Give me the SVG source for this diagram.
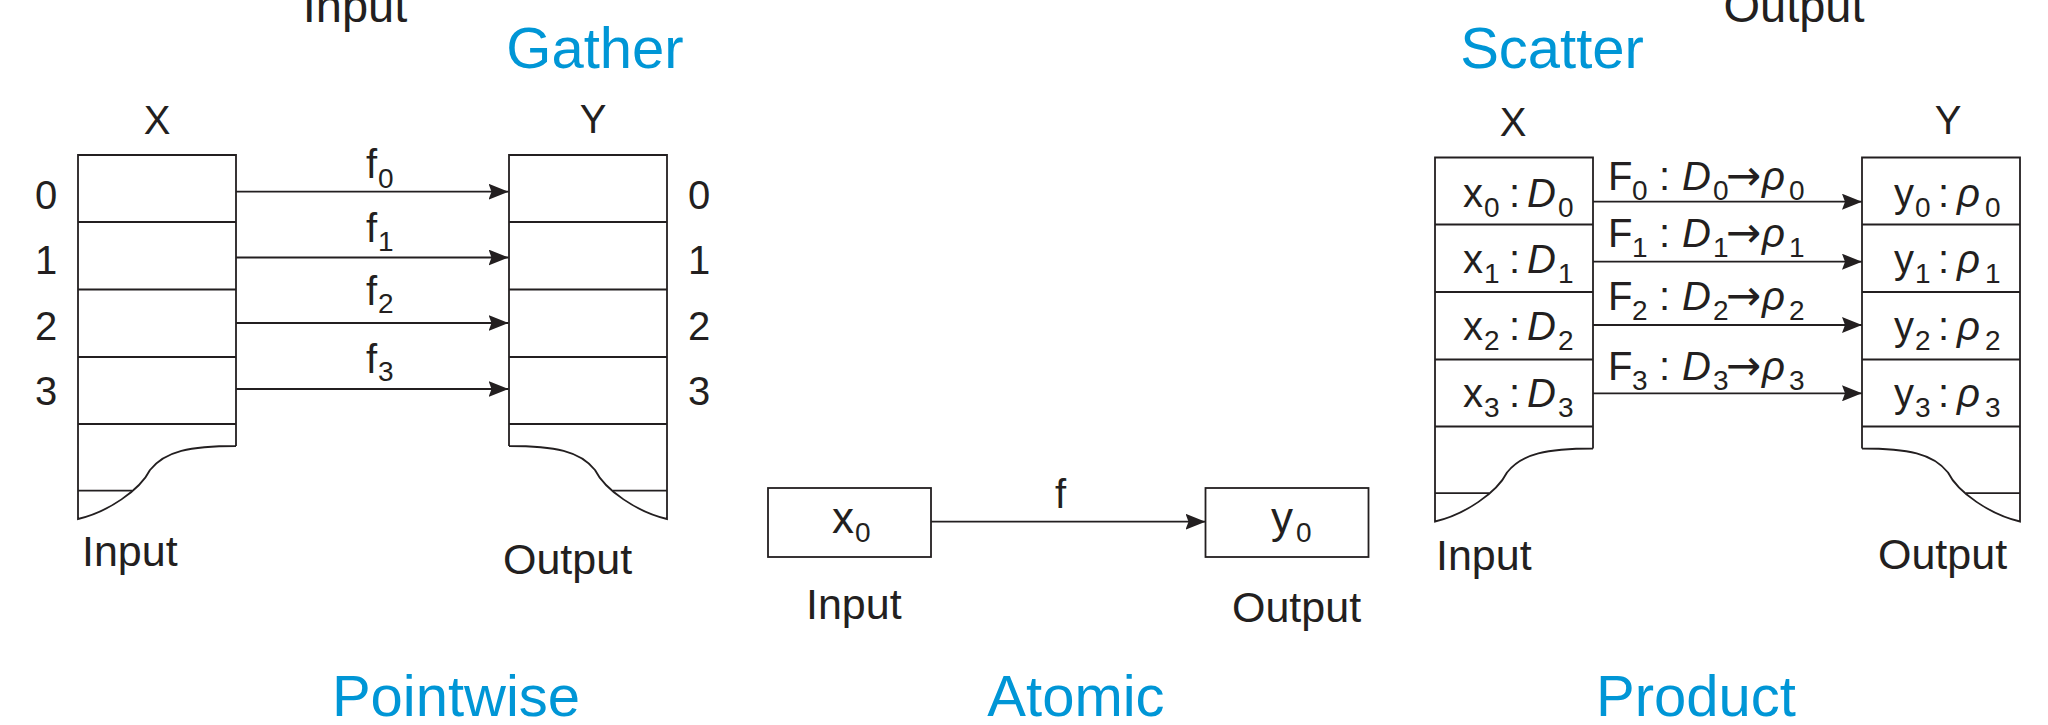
<svg xmlns="http://www.w3.org/2000/svg" xmlns:xlink="http://www.w3.org/1999/xlink" width="2048" height="725" viewBox="0 0 2048 725">
  <style>
    .ln { fill: none; stroke: #231f20; stroke-width: 1.8; }
    .box { fill: #ffffff; stroke: #231f20; stroke-width: 1.8; }
    .wire { fill: none; stroke: #231f20; stroke-width: 1.8; marker-end: url(#head); }
    text { font-family: "Liberation Sans", Arial, Helvetica, sans-serif; fill: #231f20; font-size: 40px; }
    .lbl { font-size: 43px; }
    .top { font-size: 47px; }
    .ttl { font-size: 58px; fill: #0096d6; text-anchor: middle; }
    .mid { text-anchor: middle; }
    .sub { font-size: 28px; }
    .it { font-style: italic; }
    .cell { font-size: 44px; }
    .map { font-family: "DejaVu Sans", sans-serif; font-size: 42px; }
  </style>
  <defs>
    <marker id="head" viewBox="0 0 20 16" markerWidth="20" markerHeight="16" refX="20" refY="8" markerUnits="userSpaceOnUse" orient="auto">
      <path d="M0,0 L20,8 L0,16 L3,8 Z" fill="#231f20"/>
    </marker>
    <!-- memory tape: four cells, a spare cell and a torn lower edge -->
    <g id="tape">
      <path class="ln" d="M236,446 V155 H78 V519 C108,512 140,490 150,470 C165,451 190,446 236,446"/>
      <path class="ln" d="M78,222 H236 M78,289.5 H236 M78,357 H236 M78,424 H236 M78,490.7 H132"/>
    </g>
  </defs>

  <!-- headings cut by the top edge -->
  <text class="top mid" x="355" y="22">Input</text>
  <text class="top mid" x="1794" y="22">Output</text>

  <!-- Pointwise -->
  <g id="pointwise-x">
    <use xlink:href="#tape"/>
    <text class="mid" x="157" y="134">X</text>
    <text class="mid" x="46" y="208.5">0</text>
    <text class="mid" x="46" y="274">1</text>
    <text class="mid" x="46" y="340">2</text>
    <text class="mid" x="46" y="405">3</text>
    <text class="lbl" x="82" y="566">Input</text>
  </g>
  <g id="pointwise-y">
    <use xlink:href="#tape" transform="translate(745,0) scale(-1,1)"/>
    <text class="mid" x="593" y="133">Y</text>
    <text class="mid" x="699" y="208.5">0</text>
    <text class="mid" x="699" y="274">1</text>
    <text class="mid" x="699" y="340">2</text>
    <text class="mid" x="699" y="405">3</text>
    <text class="lbl" x="503" y="574">Output</text>
  </g>
  <g id="pointwise-labels">
    <text x="366" y="178">f<tspan class="sub" x="378" y="188">0</tspan></text>
    <text x="366" y="242">f<tspan class="sub" x="378" y="251">1</tspan></text>
    <text x="366" y="305">f<tspan class="sub" x="378" y="313">2</tspan></text>
    <text x="366" y="373">f<tspan class="sub" x="378" y="381">3</tspan></text>
  </g>
  <text id="title-gather" class="ttl" x="595" y="68">Gather</text>
  <text id="title-pointwise" class="ttl" x="456" y="716">Pointwise</text>

  <!-- Atomic -->
  <g id="atomic-x">
    <rect class="box" x="768" y="488" width="163" height="69"/>
    <text class="cell" x="832" y="533">x<tspan class="sub" x="855" y="542">0</tspan></text>
    <text class="lbl" x="806" y="619">Input</text>
  </g>
  <g id="atomic-y">
    <rect class="box" x="1205.5" y="488" width="163" height="69"/>
    <text class="cell" x="1271" y="533">y<tspan class="sub" x="1296" y="542">0</tspan></text>
    <text class="lbl" x="1232" y="622">Output</text>
  </g>
  <text id="atomic-f" x="1055" y="508">f</text>
  <text id="title-atomic" class="ttl" x="1076" y="716">Atomic</text>

  <!-- Product -->
  <g id="product-x">
    <use xlink:href="#tape" transform="translate(1357,2.5)"/>
    <text class="mid" x="1513" y="136">X</text>
    <text x="1463" y="207">x<tspan class="sub" x="1484" y="217">0</tspan><tspan x="1509" y="207">:</tspan><tspan class="it" x="1527" y="207">D</tspan><tspan class="sub" x="1558" y="217">0</tspan></text>
    <text x="1463" y="273">x<tspan class="sub" x="1484" y="283">1</tspan><tspan x="1509" y="273">:</tspan><tspan class="it" x="1527" y="273">D</tspan><tspan class="sub" x="1558" y="283">1</tspan></text>
    <text x="1463" y="340">x<tspan class="sub" x="1484" y="350">2</tspan><tspan x="1509" y="340">:</tspan><tspan class="it" x="1527" y="340">D</tspan><tspan class="sub" x="1558" y="350">2</tspan></text>
    <text x="1463" y="407">x<tspan class="sub" x="1484" y="417">3</tspan><tspan x="1509" y="407">:</tspan><tspan class="it" x="1527" y="407">D</tspan><tspan class="sub" x="1558" y="417">3</tspan></text>
    <text class="lbl" x="1436" y="570">Input</text>
  </g>
  <g id="product-y">
    <use xlink:href="#tape" transform="translate(2098,2.5) scale(-1,1)"/>
    <text class="mid" x="1948" y="134">Y</text>
    <text x="1894" y="207">y<tspan class="sub" x="1915" y="217">0</tspan><tspan x="1938" y="207">:</tspan><tspan class="it" x="1957" y="207">ρ</tspan><tspan class="sub" x="1985" y="217">0</tspan></text>
    <text x="1894" y="273">y<tspan class="sub" x="1915" y="283">1</tspan><tspan x="1938" y="273">:</tspan><tspan class="it" x="1957" y="273">ρ</tspan><tspan class="sub" x="1985" y="283">1</tspan></text>
    <text x="1894" y="340">y<tspan class="sub" x="1915" y="350">2</tspan><tspan x="1938" y="340">:</tspan><tspan class="it" x="1957" y="340">ρ</tspan><tspan class="sub" x="1985" y="350">2</tspan></text>
    <text x="1894" y="407">y<tspan class="sub" x="1915" y="417">3</tspan><tspan x="1938" y="407">:</tspan><tspan class="it" x="1957" y="407">ρ</tspan><tspan class="sub" x="1985" y="417">3</tspan></text>
    <text class="lbl" x="1878" y="569">Output</text>
  </g>
  <g id="product-labels">
    <text x="1608" y="190">F<tspan class="sub" x="1632" y="200">0</tspan><tspan x="1659" y="190">:</tspan><tspan class="it" x="1682" y="190">D</tspan><tspan class="sub" x="1713" y="200">0</tspan><tspan class="map" x="1726" y="190">→</tspan><tspan class="it" x="1762" y="190">ρ</tspan><tspan class="sub" x="1789" y="200">0</tspan></text>
    <text x="1608" y="247">F<tspan class="sub" x="1632" y="257">1</tspan><tspan x="1659" y="247">:</tspan><tspan class="it" x="1682" y="247">D</tspan><tspan class="sub" x="1713" y="257">1</tspan><tspan class="map" x="1726" y="247">→</tspan><tspan class="it" x="1762" y="247">ρ</tspan><tspan class="sub" x="1789" y="257">1</tspan></text>
    <text x="1608" y="310">F<tspan class="sub" x="1632" y="320">2</tspan><tspan x="1659" y="310">:</tspan><tspan class="it" x="1682" y="310">D</tspan><tspan class="sub" x="1713" y="320">2</tspan><tspan class="map" x="1726" y="310">→</tspan><tspan class="it" x="1762" y="310">ρ</tspan><tspan class="sub" x="1789" y="320">2</tspan></text>
    <text x="1608" y="380">F<tspan class="sub" x="1632" y="390">3</tspan><tspan x="1659" y="380">:</tspan><tspan class="it" x="1682" y="380">D</tspan><tspan class="sub" x="1713" y="390">3</tspan><tspan class="map" x="1726" y="380">→</tspan><tspan class="it" x="1762" y="380">ρ</tspan><tspan class="sub" x="1789" y="390">3</tspan></text>
  </g>
  <text id="title-scatter" class="ttl" x="1552" y="68">Scatter</text>
  <text id="title-product" class="ttl" x="1696" y="716">Product</text>

  <!-- connectors -->
  <g id="connectors">
    <line class="wire" x1="236" y1="191.7" x2="508.5" y2="191.7"/>
    <line class="wire" x1="236" y1="257.5" x2="508.5" y2="257.5"/>
    <line class="wire" x1="236" y1="323" x2="508.5" y2="323"/>
    <line class="wire" x1="236" y1="389" x2="508.5" y2="389"/>
    <line class="wire" x1="931" y1="521.7" x2="1205.5" y2="521.7"/>
    <line class="wire" x1="1593" y1="201.7" x2="1862" y2="201.7"/>
    <line class="wire" x1="1593" y1="261.7" x2="1862" y2="261.7"/>
    <line class="wire" x1="1593" y1="325" x2="1862" y2="325"/>
    <line class="wire" x1="1593" y1="393.3" x2="1862" y2="393.3"/>
  </g>
</svg>
